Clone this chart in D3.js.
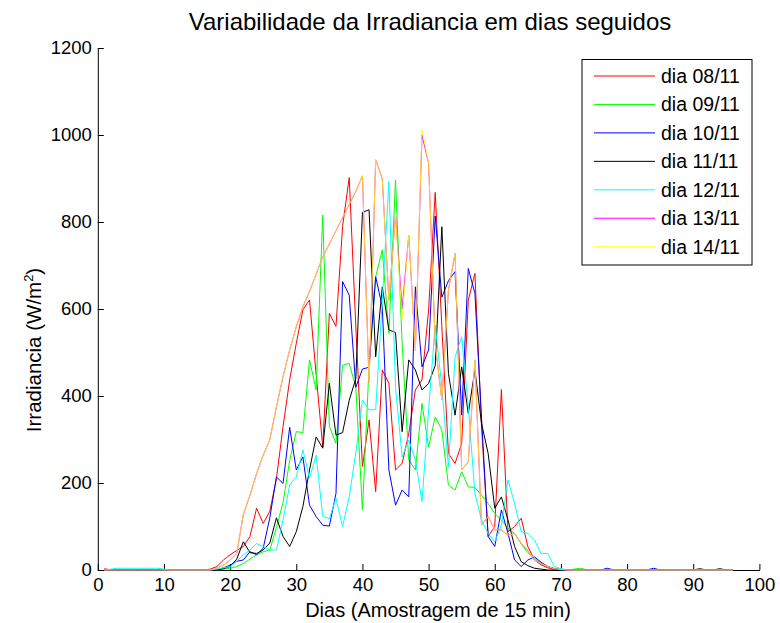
<!DOCTYPE html>
<html>
<head>
<meta charset="utf-8">
<script src="https://cdn.jsdelivr.net/npm/d3@7"></script>
<style>
  body { margin: 0; background: #fff; }
  text { font-family: "Liberation Sans", Arial, Helvetica, sans-serif; fill: #000; }
</style>
</head>
<body>
<svg id="chart" width="780" height="623"></svg>
<script>
// 15-minute samples of one day (1..96)
const samples = d3.range(1, 97);

// Irradiance (W/m²) for each day
const dia0811 = [
  3,0,0,0,0,0,0,0,0,0,
  0,0,0,0,0,0,2,8,23,35,
  45,54,77,142,107,135,210,330,437,521,
  598,621,450,283,590,560,790,902,560,238,
  345,180,460,429,230,245,314,414,437,598,
  868,560,268,245,291,620,682,330,77,100,
  415,88,100,119,54,23,12,5,2,0,
  0,0,0,0,0,0,0,0,0,0,
  0,0,0,0,0,0,0,0,0,0,
  0,0,0,0,0,0];
const dia0911 = [
  0,0,0,0,0,0,0,0,0,0,
  0,0,0,0,0,0,0,0,2,4,
  8,15,25,35,42,46,98,155,252,318,
  316,483,414,816,330,291,471,475,420,138,
  467,674,736,544,897,520,253,230,383,283,
  352,322,195,184,226,191,190,172,153,130,
  115,96,84,60,40,27,15,8,4,2,
  0,2,4,0,0,0,0,0,0,0,
  0,0,0,0,0,0,0,0,0,0,
  0,0,0,0,0,0];
const dia1011 = [
  0,0,0,0,0,0,0,0,0,0,
  0,0,0,0,0,0,0,0,5,11,
  20,23,42,35,50,120,214,199,328,230,
  260,149,123,103,101,176,663,632,420,462,
  466,674,605,230,149,184,168,651,467,506,
  814,627,665,686,356,693,636,350,77,54,
  138,84,23,8,23,30,18,8,3,0,
  0,0,0,0,0,0,4,0,0,0,
  0,0,0,4,0,0,0,0,0,0,
  0,0,0,0,0,0];
const dia1111 = [
  0,0,0,0,0,0,0,0,0,0,
  0,0,0,0,0,0,0,0,3,8,
  25,65,40,38,46,62,120,77,54,88,
  146,230,306,280,429,310,316,390,440,822,
  828,490,651,552,546,318,483,460,414,429,
  470,789,452,356,467,360,460,337,268,142,
  168,115,54,19,10,4,2,0,0,0,
  0,0,0,0,0,0,0,0,0,0,
  0,0,0,0,0,0,0,0,0,0,
  3,0,0,3,0,0];
const dia1211 = [
  0,2,4,4,4,4,4,4,4,2,
  0,0,0,0,0,0,0,2,5,8,
  20,35,46,61,54,46,46,115,195,214,
  276,211,264,123,118,165,100,168,270,391,
  368,369,620,893,420,260,299,253,157,368,
  563,421,237,490,536,375,176,115,84,65,
  103,207,153,88,84,69,38,38,8,3,
  0,0,0,0,0,0,0,0,0,0,
  0,0,0,0,0,0,0,0,0,0,
  0,0,0,0,0,0];
const dia1311 = [
  0,0,0,0,0,0,0,0,0,0,
  0,0,0,0,0,0,0,4,11,23,
  38,128,172,222,264,300,375,445,506,559,
  605,640,680,720,750,780,810,840,870,906,
  430,943,899,620,816,600,770,505,1000,935,
  520,391,644,728,230,249,483,103,123,92,
  92,80,84,61,45,23,15,8,3,1,
  0,0,0,0,0,0,0,0,0,0,
  0,0,0,0,0,0,0,0,0,0,
  0,0,0,0,0,0];
const dia1411 = [
  0,0,0,0,0,0,0,0,0,0,
  0,0,0,0,0,0,0,4,11,23,
  38,128,172,222,264,300,375,445,506,559,
  605,640,680,720,750,780,810,840,870,906,
  430,943,899,620,816,578,770,505,1012,935,
  520,391,644,728,230,249,483,103,123,92,
  92,80,84,61,45,23,15,8,3,1,
  0,0,0,0,0,0,0,0,0,0,
  0,0,0,0,0,0,0,0,0,0,
  0,0,0,0,0,0];

const seriesNames = ["dia 08/11", "dia 09/11", "dia 10/11", "dia 11/11", "dia 12/11", "dia 13/11", "dia 14/11"];
const seriesValues = [dia0811, dia0911, dia1011, dia1111, dia1211, dia1311, dia1411];
const seriesColors = ["#ff0000", "#00ff00", "#0000ff", "#000000", "#00ffff", "#ff00ff", "#ffff00"];
const seriesOpacity = [1, 1, 1, 1, 1, 1, 0.8];

const xTicks = d3.range(0, 101, 10);
const yTicks = d3.range(0, 1201, 200);

const titleText = "Variabilidade da Irradiancia em dias seguidos";
const xLabelText = "Dias (Amostragem de 15 min)";

const svg = d3.select("#chart");

const x = d3.scaleLinear().domain([0, 100]).range([97.8, 759.4]);
const y = d3.scaleLinear().domain([0, 1200]).range([570, 48]);

// axes (ticks point inward, no box)
const xAxis = svg.append("g")
  .attr("transform", `translate(0,${y(0)})`)
  .call(d3.axisBottom(x).tickValues(xTicks).tickFormat(d3.format("d"))
    .tickSizeInner(-6).tickSizeOuter(0).tickPadding(8));
const yAxis = svg.append("g")
  .attr("transform", `translate(${x(0)},0)`)
  .call(d3.axisLeft(y).tickValues(yTicks).tickFormat(d3.format("d"))
    .tickSizeInner(-6).tickSizeOuter(0).tickPadding(6));

[xAxis, yAxis].forEach(g => {
  g.selectAll("path.domain").attr("stroke", "#000").attr("stroke-width", 1);
  g.selectAll(".tick line").attr("stroke", "#000").attr("stroke-width", 1);
  g.selectAll(".tick text").attr("font-size", 18.5).attr("fill", "#000")
    .style("font-family", '"Liberation Sans", Arial, sans-serif');
});

// series lines
const line = d3.line()
  .x((d, i) => x(samples[i]))
  .y(d => y(d));

const plot = svg.append("g");
seriesValues.forEach((vals, k) => {
  plot.append("path")
    .datum(vals)
    .attr("fill", "none")
    .attr("stroke", seriesColors[k])
    .attr("stroke-opacity", seriesOpacity[k])
    .attr("stroke-width", 1)
    .attr("stroke-linejoin", "miter")
    .attr("d", line);
});

// title and axis labels
svg.append("text")
  .attr("x", 430)
  .attr("y", 30)
  .attr("text-anchor", "middle")
  .attr("font-size", 24)
  .text(titleText);

svg.append("text")
  .attr("x", 438)
  .attr("y", 617)
  .attr("text-anchor", "middle")
  .attr("font-size", 20)
  .text(xLabelText);

const yLab = svg.append("text")
  .attr("transform", `translate(41,350) rotate(-90)`)
  .attr("text-anchor", "middle")
  .attr("font-size", 20.5);
yLab.append("tspan").text("Irradiancia (W/m");
yLab.append("tspan").attr("font-size", 13).attr("dy", -8).text("2");
yLab.append("tspan").attr("dy", 8).text(")");

// legend
const legend = svg.append("g");
legend.append("rect")
  .attr("x", 582).attr("y", 59.5)
  .attr("width", 170).attr("height", 205.5)
  .attr("fill", "#fff").attr("stroke", "#000").attr("stroke-width", 1);
seriesNames.forEach((name, k) => {
  const ly = 76 + k * 28.45;
  legend.append("line")
    .attr("x1", 594).attr("x2", 655)
    .attr("y1", ly).attr("y2", ly)
    .attr("stroke", seriesColors[k])
    .attr("stroke-opacity", seriesOpacity[k])
    .attr("stroke-width", 1);
  legend.append("text")
    .attr("x", 661).attr("y", ly)
    .attr("dy", "0.35em")
    .attr("font-size", 19.5)
    .text(name);
});
</script>
</body>
</html>
